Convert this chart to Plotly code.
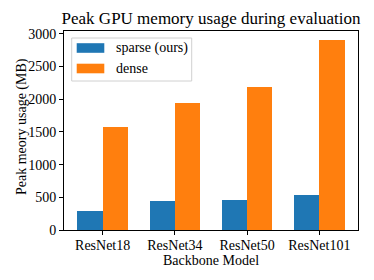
import plotly.graph_objects as go

categories = ["ResNet18", "ResNet34", "ResNet50", "ResNet101"]
sparse_vals = [291, 444, 459, 540]
dense_vals = [1581, 1949, 2184, 2898]
y_ticks = [0, 500, 1000, 1500, 2000, 2500, 3000]
series_names = ["sparse (ours)", "dense"]
colors = ["#1f77b4", "#ff7f0e"]

FONT = "Liberation Serif"
W, H = 374, 280
L, R, T, B = 64, 16, 31, 50
pw, ph = W - L - R, H - T - B

x_idx = list(range(len(categories)))
bw = 0.35

fig = go.Figure()
fig.add_trace(go.Bar(x=[i - bw / 2 for i in x_idx], y=sparse_vals, width=bw,
                     marker=dict(color=colors[0], line=dict(width=0)),
                     name=series_names[0], showlegend=False))
fig.add_trace(go.Bar(x=[i + bw / 2 for i in x_idx], y=dense_vals, width=bw,
                     marker=dict(color=colors[1], line=dict(width=0)),
                     name=series_names[1], showlegend=False))

# pixel -> paper helpers
def px(x):
    return (x - L) / pw

def py(y):
    return 1 - (y - T) / ph

shapes = [dict(type="rect", xref="paper", yref="paper",
               x0=px(71.7), x1=px(191.7), y0=py(81), y1=py(38),
               line=dict(color="#d0d0d0", width=1), fillcolor="rgba(255,255,255,0.8)", layer="above")]
annotations = []
for k, (nm, c) in enumerate(zip(series_names, colors)):
    yc = 48 + k * 20.5
    shapes.append(dict(type="rect", xref="paper", yref="paper",
                       x0=px(76.7), x1=px(104.3), y0=py(yc + 4.8), y1=py(yc - 4.8),
                       line=dict(width=0), fillcolor=c, layer="above"))
    annotations.append(dict(text=nm, xref="paper", yref="paper", x=px(114), y=py(yc),
                            xanchor="left", yanchor="middle", showarrow=False,
                            font=dict(family=FONT, size=14, color="black")))

# axis titles
annotations.append(dict(text="Backbone Model", xref="paper", yref="paper", x=0.5, y=py(260),
                        xanchor="center", yanchor="middle", showarrow=False,
                        font=dict(family=FONT, size=14, color="black")))
annotations.append(dict(text="Peak meory usage (MB)", xref="paper", yref="paper", x=px(22), y=py(127),
                        xanchor="center", yanchor="middle", showarrow=False, textangle=-90,
                        font=dict(family=FONT, size=14, color="black")))

fig.update_layout(
    width=W, height=H,
    margin=dict(l=L, r=R, t=T, b=B),
    paper_bgcolor="white", plot_bgcolor="white",
    font=dict(family=FONT, size=13, color="black"),
    title=dict(text="Peak GPU memory usage during evaluation", x=(L + pw / 2) / W, xanchor="center",
               y=1 - 18 / H, yanchor="middle", font=dict(family=FONT, size=17)),
    bargap=0, barmode="overlay",
    shapes=shapes, annotations=annotations,
    xaxis=dict(range=[-0.535, 3.535], tickmode="array", tickvals=x_idx, ticktext=categories,
               showgrid=False, zeroline=False, showline=True, linecolor="black", linewidth=1,
               mirror=True, ticks="outside", ticklen=4, tickcolor="black", ticklabelstandoff=-2,
               tickfont=dict(family=FONT, size=14), automargin=False),
    yaxis=dict(range=[0, 3043], tickmode="array", tickvals=y_ticks,
               showgrid=False, zeroline=False, showline=True, linecolor="black", linewidth=1,
               mirror=True, ticks="outside", ticklen=4, tickcolor="black",
               tickfont=dict(family=FONT, size=14), automargin=False),
)

fig.write_html("out.html", post_script="document.body.style.margin='0';",
               config={"displayModeBar": False})
